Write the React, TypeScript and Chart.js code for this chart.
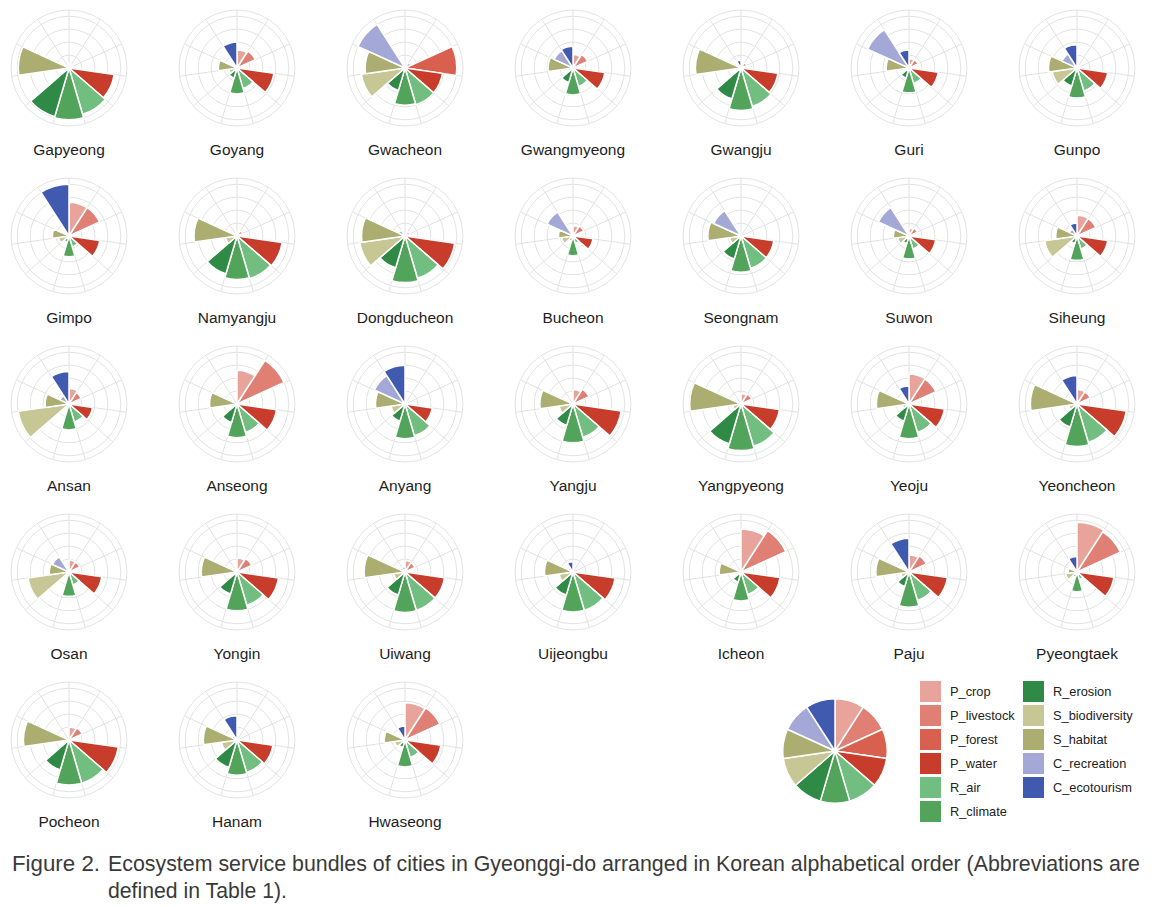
import React, { useEffect, useRef } from "react";
import { Chart, registerables } from "chart.js";

Chart.register(...registerables);

// ---------- data ----------
const services = [
  "P_crop", "P_livestock", "P_forest", "P_water", "R_air", "R_climate",
  "R_erosion", "S_biodiversity", "S_habitat", "C_recreation", "C_ecotourism",
];

const serviceColors = [
  "#e8a39b", "#e07f74", "#d9604f", "#c83c2c", "#72be80", "#52a45a",
  "#2f8a45", "#c6c795", "#abae70", "#a3a8d6", "#3f5aae",
];

const cityNames = [
  "Gapyeong", "Goyang", "Gwacheon", "Gwangmyeong", "Gwangju", "Guri", "Gunpo",
  "Gimpo", "Namyangju", "Dongducheon", "Bucheon", "Seongnam", "Suwon", "Siheung",
  "Ansan", "Anseong", "Anyang", "Yangju", "Yangpyeong", "Yeoju", "Yeoncheon",
  "Osan", "Yongin", "Uiwang", "Uijeongbu", "Icheon", "Paju", "Pyeongtaek",
  "Pocheon", "Hanam", "Hwaseong",
];

// values per service, in the order of `services`
const gapyeong = [0.03, 0.07, 0.02, 0.88, 0.93, 1.0, 0.98, 0.08, 0.98, 0.02, 0.08];
const goyang = [0.35, 0.39, 0.05, 0.72, 0.41, 0.5, 0.2, 0.16, 0.36, 0.05, 0.5];
const gwacheon = [0.1, 0.12, 1.0, 0.73, 0.74, 0.72, 0.45, 0.85, 0.77, 1.0, 0.02];
const gwangmyeong = [0.26, 0.31, 0.05, 0.62, 0.37, 0.52, 0.29, 0.1, 0.48, 0.4, 0.42];
const gwangju = [0.08, 0.12, 0.05, 0.72, 0.77, 0.82, 0.62, 0.05, 0.88, 0.02, 0.15];
const guri = [0.18, 0.19, 0.05, 0.57, 0.31, 0.48, 0.2, 0.08, 0.44, 0.88, 0.35];
const gunpo = [0.04, 0.08, 0.05, 0.6, 0.46, 0.58, 0.36, 0.48, 0.55, 0.32, 0.45];
const gimpo = [0.65, 0.65, 0.05, 0.6, 0.22, 0.4, 0.12, 0.2, 0.32, 0.05, 1.0];
const namyangju = [0.08, 0.12, 0.03, 0.88, 0.86, 0.84, 0.76, 0.22, 0.83, 0.02, 0.06];
const dongducheon = [0.03, 0.1, 0.02, 0.97, 0.85, 0.9, 0.64, 0.88, 0.84, 0.13, 0.02];
const bucheon = [0.2, 0.23, 0.05, 0.39, 0.15, 0.38, 0.1, 0.22, 0.28, 0.55, 0.03];
const seongnam = [0.02, 0.03, 0.02, 0.64, 0.65, 0.7, 0.46, 0.22, 0.64, 0.58, 0.02];
const suwon = [0.15, 0.18, 0.03, 0.52, 0.26, 0.44, 0.15, 0.22, 0.3, 0.65, 0.03];
const siheung = [0.4, 0.4, 0.05, 0.6, 0.26, 0.47, 0.15, 0.63, 0.41, 0.16, 0.25];
const ansan = [0.3, 0.26, 0.05, 0.46, 0.36, 0.5, 0.08, 0.99, 0.46, 0.19, 0.63];
const anseong = [0.65, 1.0, 0.04, 0.77, 0.57, 0.65, 0.37, 0.05, 0.53, 0.02, 0.02];
const anyang = [0.03, 0.05, 0.04, 0.53, 0.64, 0.67, 0.34, 0.27, 0.57, 0.65, 0.75];
const yangju = [0.28, 0.34, 0.03, 0.94, 0.67, 0.75, 0.43, 0.27, 0.64, 0.02, 0.02];
const yangpyeong = [0.2, 0.23, 0.03, 0.75, 0.85, 0.9, 0.8, 0.16, 0.99, 0.02, 0.02];
const yeoju = [0.58, 0.57, 0.04, 0.69, 0.57, 0.67, 0.34, 0.13, 0.63, 0.05, 0.35];
const yeoncheon = [0.28, 0.28, 0.03, 0.96, 0.77, 0.82, 0.46, 0.16, 0.9, 0.03, 0.55];
const osan = [0.23, 0.23, 0.04, 0.64, 0.26, 0.47, 0.08, 0.8, 0.38, 0.35, 0.03];
const yongin = [0.27, 0.31, 0.03, 0.81, 0.67, 0.75, 0.44, 0.08, 0.69, 0.07, 0.02];
const uiwang = [0.22, 0.21, 0.03, 0.77, 0.77, 0.78, 0.46, 0.22, 0.79, 0.1, 0.1];
const uijeongbu = [0.02, 0.02, 0.02, 0.82, 0.77, 0.77, 0.46, 0.27, 0.55, 0.1, 0.2];
const icheon = [0.83, 0.95, 0.03, 0.76, 0.45, 0.56, 0.2, 0.08, 0.42, 0.02, 0.02];
const paju = [0.33, 0.37, 0.04, 0.75, 0.57, 0.68, 0.29, 0.16, 0.64, 0.05, 0.65];
const pyeongtaek = [0.96, 0.92, 0.04, 0.72, 0.15, 0.38, 0.1, 0.22, 0.17, 0.05, 0.3];
const pocheon = [0.25, 0.28, 0.05, 0.96, 0.87, 0.87, 0.6, 0.07, 0.88, 0.02, 0.02];
const hanam = [0.03, 0.03, 0.03, 0.7, 0.65, 0.68, 0.55, 0.3, 0.65, 0.1, 0.47];
const hwaseong = [0.72, 0.74, 0.04, 0.7, 0.35, 0.52, 0.15, 0.2, 0.4, 0.05, 0.27];

const cityValues = [
  gapyeong, goyang, gwacheon, gwangmyeong, gwangju, guri, gunpo,
  gimpo, namyangju, dongducheon, bucheon, seongnam, suwon, siheung,
  ansan, anseong, anyang, yangju, yangpyeong, yeoju, yeoncheon,
  osan, yongin, uiwang, uijeongbu, icheon, paju, pyeongtaek,
  pocheon, hanam, hwaseong,
];

const ringTicks = [0, 0.25, 0.5, 0.75, 1.0, 1.12];
const legendPieValues = [1, 1, 1, 1, 1, 1, 1, 1, 1, 1, 1];
const captionLine1a = "Figure 2.";
const captionLine1b =
  "Ecosystem service bundles of cities in Gyeonggi-do arranged in Korean alphabetical order (Abbreviations are";
const captionLine2 = "defined in Table 1).";

// ---------- layout / style ----------
const GRID = "#e0e4e0";
const COLS = 7;
const COL_X0 = 69;
const COL_DX = 168;
const ROW_Y0 = 68;
const ROW_DY = 168;
const CANVAS = 118;
const FONT = "'Liberation Sans', Arial, Helvetica, sans-serif";

function PolarCell(props: { name: string; values: number[]; cx: number; cy: number }) {
  const { name, values, cx, cy } = props;
  const ref = useRef<HTMLCanvasElement>(null);
  useEffect(() => {
    const chart = new Chart(ref.current as HTMLCanvasElement, {
      type: "polarArea",
      data: {
        labels: services,
        datasets: [
          {
            data: values,
            backgroundColor: serviceColors,
            borderColor: "#ffffff",
            borderWidth: 1.5,
          },
        ],
      },
      options: {
        animation: false,
        responsive: false,
        events: [],
        layout: { padding: 1 },
        plugins: { legend: { display: false }, tooltip: { enabled: false } },
        scales: {
          r: {
            min: 0,
            max: 1.12,
            ticks: { display: false, stepSize: 0.25 },
            afterBuildTicks: (axis: any) => {
              axis.ticks = ringTicks.map((v) => ({ value: v }));
            },
            grid: { color: GRID, lineWidth: 1, circular: true },
            angleLines: { display: true, color: GRID, lineWidth: 1 },
            pointLabels: { display: false },
          },
        },
      } as any,
    });
    return () => chart.destroy();
  }, []);
  return (
    <>
      <canvas
        ref={ref}
        width={CANVAS}
        height={CANVAS}
        style={{ position: "absolute", left: cx - CANVAS / 2, top: cy - CANVAS / 2, width: CANVAS, height: CANVAS }}
      />
      <div
        style={{
          position: "absolute",
          left: cx - 84,
          top: cy + 72,
          width: 168,
          textAlign: "center",
          fontFamily: FONT,
          fontSize: 15.5,
          lineHeight: "20px",
          color: "#1e1e1e",
        }}
      >
        {name}
      </div>
    </>
  );
}

function LegendPie() {
  const ref = useRef<HTMLCanvasElement>(null);
  useEffect(() => {
    const chart = new Chart(ref.current as HTMLCanvasElement, {
      type: "pie",
      data: {
        labels: services,
        datasets: [
          { data: legendPieValues, backgroundColor: serviceColors, borderColor: "#ffffff", borderWidth: 1.5 },
        ],
      },
      options: {
        animation: false,
        responsive: false,
        events: [],
        plugins: { legend: { display: false }, tooltip: { enabled: false } },
      } as any,
    });
    return () => chart.destroy();
  }, []);
  const size = 106;
  return (
    <canvas
      ref={ref}
      width={size}
      height={size}
      style={{ position: "absolute", left: 835 - size / 2, top: 751 - size / 2, width: size, height: size }}
    />
  );
}

function Legend() {
  return (
    <>
      {services.map((s, i) => {
        const col = i < 6 ? 0 : 1;
        const row = i < 6 ? i : i - 6;
        const bx = col === 0 ? 920 : 1023;
        const by = 681 + row * 24;
        return (
          <React.Fragment key={s}>
            <div
              style={{ position: "absolute", left: bx, top: by, width: 21, height: 21, background: serviceColors[i] }}
            />
            <div
              style={{
                position: "absolute",
                left: bx + 30,
                top: by,
                height: 21,
                lineHeight: "21px",
                fontFamily: FONT,
                fontSize: 12.8,
                color: "#222",
                whiteSpace: "nowrap",
              }}
            >
              {s}
            </div>
          </React.Fragment>
        );
      })}
    </>
  );
}

export default function App() {
  return (
    <div
      style={{
        position: "absolute",
        left: 0,
        top: 0,
        width: 1156,
        height: 907,
        background: "#ffffff",
        overflow: "hidden",
      }}
    >
      {cityNames.map((name, i) => {
        const col = i % COLS;
        const row = Math.floor(i / COLS);
        return (
          <PolarCell
            key={name}
            name={name}
            values={cityValues[i]}
            cx={COL_X0 + col * COL_DX}
            cy={ROW_Y0 + row * ROW_DY}
          />
        );
      })}
      <LegendPie />
      <Legend />
      <svg
        width={1156}
        height={67}
        style={{ position: "absolute", left: 0, top: 840 }}
      >
        <g fontFamily={FONT} fontSize={22} fill="#3a3a3a">
          <text x={12} y={31} textLength={88} lengthAdjust="spacingAndGlyphs">{captionLine1a}</text>
          <text x={108} y={31} textLength={1032} lengthAdjust="spacingAndGlyphs">{captionLine1b}</text>
          <text x={108} y={58} textLength={179} lengthAdjust="spacingAndGlyphs">{captionLine2}</text>
        </g>
      </svg>
    </div>
  );
}
